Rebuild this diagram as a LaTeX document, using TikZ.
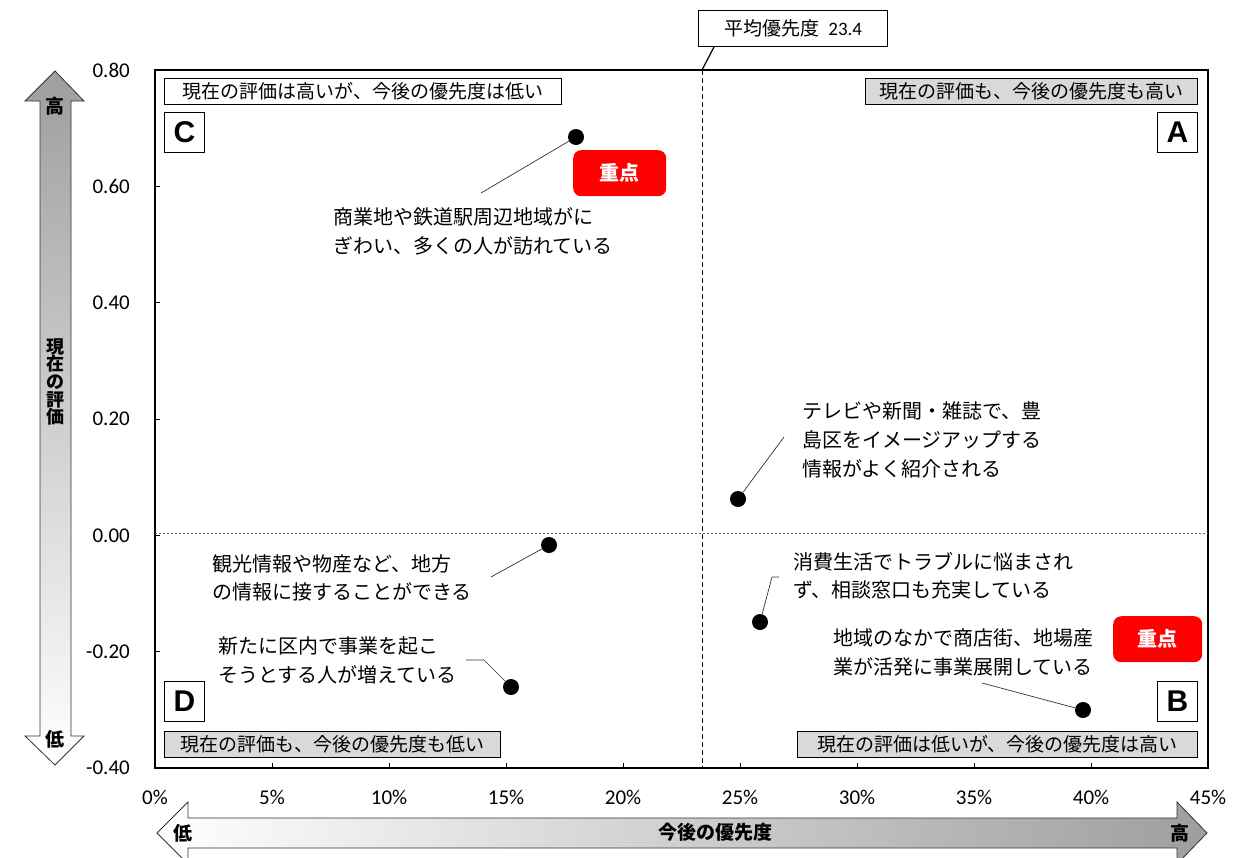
\documentclass[tikz,border=0pt]{standalone}
\usepackage{fontspec}
\setmainfont{Carlito}
\newfontfamily\jp{Noto Sans CJK JP}
\newfontfamily\arl{Liberation Sans}
\begin{document}
\begin{tikzpicture}[x=1pt,y=-1pt,
  note/.style={font=\jp\fontsize{20}{29}\selectfont, align=left, anchor=west, inner sep=0pt},
  qlabel/.style={draw=black, line width=0.8pt, font=\jp\fontsize{19}{20}\selectfont, minimum height=26pt, inner sep=0pt, anchor=north west},
  qgray/.style={qlabel, fill=black!15},
  letterbox/.style={draw=black, line width=0.8pt, fill=white, minimum width=40pt, minimum height=40pt, inner sep=0pt, font=\arl\bfseries\fontsize{30}{30}\selectfont, anchor=north west},
  dot/.style={circle, fill=black, minimum size=16pt, inner sep=0pt},
  leader/.style={draw=black!80, line width=0.7pt},
  redbox/.style={fill=red, rounded corners=8pt, text=white, font=\jp\bfseries\fontsize{20}{22}\selectfont, minimum height=46pt, inner sep=0pt, anchor=north west},
  ytick/.style={font=\fontsize{21}{22}\selectfont, anchor=east, inner sep=0pt},
  xtick/.style={font=\fontsize{21}{22}\selectfont, anchor=center, inner sep=0pt},
  arrowtxt/.style={font=\jp\bfseries\fontsize{19}{20}\selectfont, inner sep=0pt}
]
\useasboundingbox (0,0) rectangle (1249,857);
\fill[white] (0,0) rectangle (1249,857);

% vertical arrow
\path[draw=black!80, line width=0.8pt, top color=black!38, bottom color=white]
  (55,71)--(84,101)--(71,101)--(71,736)--(84,736)--(55,765)--(25,736)--(40,736)--(40,101)--(25,101)--cycle;
\node[arrowtxt] (vhi) at (55,106) {高};
\node[arrowtxt] (vlo) at (55,739) {低};
\node[arrowtxt, align=center, font=\jp\bfseries\fontsize{18}{17.6}\selectfont] (vlab) at (55,382) {現\\在\\の\\評\\価};

% horizontal arrow
\path[draw=black!80, line width=0.8pt, left color=white, right color=black!38]
  (157,833)--(188,802)--(188,818)--(1177,818)--(1177,802)--(1207,833)--(1177,864)--(1177,848)--(188,848)--(188,864)--cycle;
\node[arrowtxt] (hlo) at (183,833) {低};
\node[arrowtxt] (hhi) at (1180,833) {高};
\node[arrowtxt] (hlab) at (715,832) {今後の優先度};

% plot frame
\draw[line width=1.2pt] (155,70) rectangle (1208,768);
% y ticks
\foreach \v/\lab in {0/0.80,1/0.60,2/0.40,3/0.20,4/0.00,5/-0.20,6/-0.40}{
  \draw[line width=0.8pt] (155,70+116.33*\v) -- (160,70+116.33*\v);
  \node[ytick] at (130,70+116.33*\v) {\lab};
}
% x ticks
\foreach \p in {0,5,...,45}{
  \draw[line width=0.8pt] (155+23.4*\p,768) -- (155+23.4*\p,763);
  \node[xtick] at (155+23.4*\p,797) {\p\%};
}

% mean lines
\draw[line width=0.9pt, dash pattern=on 5pt off 3pt] (702,70) -- (702,768);
\draw[black!60, line width=1pt, dash pattern=on 2pt off 2pt] (155,533) -- (1208,533);

% average label
\node[draw=black, line width=1.4pt, fill=white, minimum width=189pt, minimum height=36pt, inner sep=0pt, anchor=north west] (avg) at (698,10) {{\jp\fontsize{19}{20}\selectfont 平均優先度}\hspace{9pt}{\fontsize{19}{20}\selectfont 23.4}};
\coordinate (avgfoot) at (702,70);
\draw[line width=1.2pt] (avgfoot) -- (714,47);

% quadrant labels
\node[qlabel, fill=white, minimum width=397pt] (qc) at (164,78) {現在の評価は高いが、今後の優先度は低い};
\node[qgray, minimum width=332pt] (qa) at (865,78) {現在の評価も、今後の優先度も高い};
\node[qgray, minimum width=336pt] (qd) at (164,731) {現在の評価も、今後の優先度も低い};
\node[qgray, minimum width=400pt] (qb) at (797,731) {現在の評価は低いが、今後の優先度は高い};
\node[letterbox] (lc) at (164,112) {C};
\node[letterbox] (la) at (1157,112) {A};
\node[letterbox] (ld) at (164,681) {D};
\node[letterbox] (lb) at (1157,681) {B};

% red boxes
\node[redbox, minimum width=93pt] (r1) at (573,150) {重点};
\node[redbox, minimum width=89pt] (r2) at (1113,616) {重点};

% data points
\node[dot] (p1) at (576,137) {};
\node[dot] (p2) at (738,499) {};
\node[dot] (p3) at (549,545) {};
\node[dot] (p4) at (760,622) {};
\node[dot] (p5) at (511,687) {};
\node[dot] (p6) at (1083,710) {};

% notes
\node[note] (n1) at (333,231) {商業地や鉄道駅周辺地域がに\\ぎわい、多くの人が訪れている};
\node[note] (n2) at (802,440) {テレビや新聞・雑誌で、豊\\島区をイメージアップする\\情報がよく紹介される};
\node[note, font=\jp\fontsize{20}{28}\selectfont] (n3) at (212,578) {観光情報や物産など、地方\\の情報に接することができる};
\node[note, font=\jp\fontsize{20}{28}\selectfont] (n4) at (793,576) {消費生活でトラブルに悩まされ\\ず、相談窓口も充実している};
\node[note] (n5) at (218,660) {新たに区内で事業を起こ\\そうとする人が増えている};
\node[note] (n6) at (833,652) {地域のなかで商店街、地場産\\業が活発に事業展開している};

% leaders
\coordinate (c1) at (481,193);
\coordinate (c2) at (784,437);
\coordinate (c3) at (491,577);
\coordinate (c4) at (772,577);
\coordinate (c4b) at (779,577);
\coordinate (c5) at (466,660);
\coordinate (c5b) at (484,660);
\coordinate (c6) at (982,683);
\draw[leader] (c1) -- (p1);
\draw[leader] (p2) -- (c2);
\draw[leader] (c3) -- (p3);
\draw[leader] (p4) -- (c4) -- (c4b);
\draw[leader] (c5) -- (c5b) -- (p5);
\draw[leader] (c6) -- (p6);
\end{tikzpicture}
\end{document}
